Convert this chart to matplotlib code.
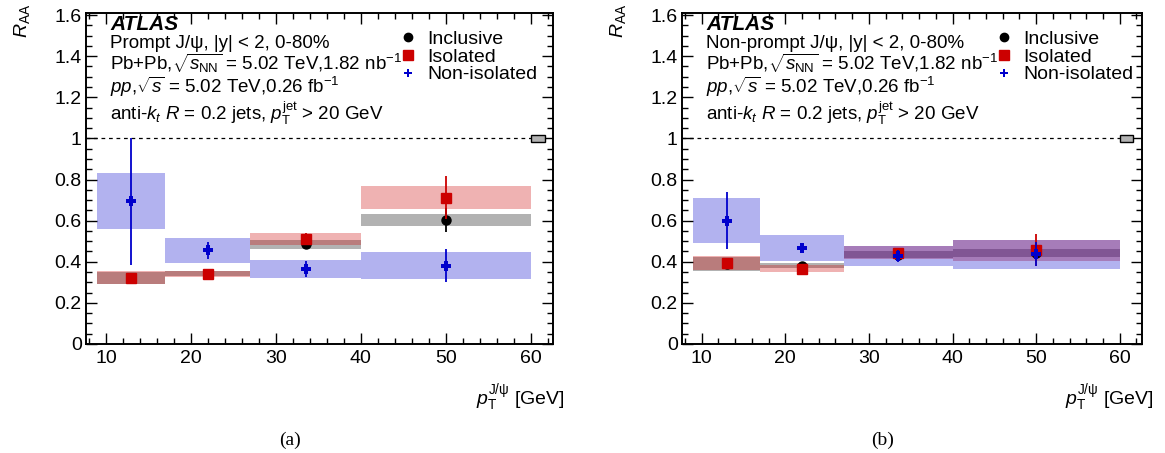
import numpy as np
import matplotlib
matplotlib.use("Agg")
import matplotlib.pyplot as plt
from matplotlib.lines import Line2D
from matplotlib.ticker import MultipleLocator

plt.rcParams['font.family'] = ['Liberation Sans', 'DejaVu Sans']
plt.rcParams['mathtext.fontset'] = 'custom'
plt.rcParams['mathtext.rm'] = 'Liberation Sans'
plt.rcParams['mathtext.it'] = 'Liberation Sans:italic'
plt.rcParams['mathtext.bf'] = 'Liberation Sans:bold'

# ---------------- data ----------------
bin_lo = [9, 17, 27, 40]
bin_hi = [17, 27, 40, 60]
x_pts = [13, 22, 33.5, 50]

# (a) prompt
a_incl = [0.322, 0.342, 0.486, 0.603]
a_incl_stat = [0.01, 0.01, 0.015, 0.06]
a_incl_sys = [0.028, 0.012, 0.022, 0.030]
a_iso = [0.323, 0.342, 0.511, 0.712]
a_iso_stat = [0.01, 0.01, 0.03, 0.105]
a_iso_sys = [0.030, 0.015, 0.030, 0.057]
a_non = [0.694, 0.455, 0.365, 0.381]
a_non_stat = [0.31, 0.04, 0.04, 0.08]
a_non_sys = [0.136, 0.060, 0.044, 0.067]

# (b) non-prompt
b_incl = [0.390, 0.381, 0.435, 0.443]
b_incl_stat = [0.01, 0.01, 0.02, 0.05]
b_incl_sys = [0.033, 0.013, 0.019, 0.019]
b_iso = [0.395, 0.366, 0.444, 0.457]
b_iso_stat = [0.01, 0.01, 0.015, 0.08]
b_iso_sys = [0.033, 0.018, 0.031, 0.051]
b_non = [0.600, 0.465, 0.429, 0.436]
b_non_stat = [0.137, 0.02, 0.03, 0.058]
b_non_sys = [0.111, 0.063, 0.050, 0.072]

global_unc = 0.017
series_labels = ["Inclusive", "Isolated", "Non-isolated"]
x_ticks = [10, 20, 30, 40, 50, 60]
y_ticks = [0, 0.2, 0.4, 0.6, 0.8, 1.0, 1.2, 1.4, 1.6]
y_ticklabels = ["0", "0.2", "0.4", "0.6", "0.8", "1", "1.2", "1.4", "1.6"]

C_BLACK = "#000000"
C_RED = "#cc0000"
C_BLUE = "#0000cc"

FS = 14

fig = plt.figure(figsize=(11.65, 4.53), dpi=100)
W, H = 1165.0, 453.0


def make_axes(left_px, width_px):
    top_px, bot_px = 13.0, 344.0
    return fig.add_axes([left_px / W, (H - bot_px) / H, width_px / W, (bot_px - top_px) / H])


def draw_panel(ax, title, incl, incl_stat, incl_sys, iso, iso_stat, iso_sys,
               non, non_stat, non_sys, caption, cap_x):
    lo = np.array(bin_lo, float)
    hi = np.array(bin_hi, float)
    xl, xh = 7.65, 62.6
    ax.set_xlim(xl, xh)
    ax.set_ylim(0, 1.61)

    # reference line at unity + global uncertainty box
    ax.hlines(1.0, xl, 60, colors='black', linestyles=(0, (3, 3)), linewidth=0.9, zorder=1)
    ax.bar([60], [2 * global_unc], bottom=[1 - global_unc], width=1.6, align='edge',
           color='#b2b2b2', edgecolor='black', linewidth=1.0, zorder=3)

    # systematic boxes
    for vals, sys, col in [(incl, incl_sys, C_BLACK), (iso, iso_sys, C_RED), (non, non_sys, C_BLUE)]:
        v = np.array(vals)
        s = np.array(sys)
        ax.bar(lo, 2 * s, bottom=v - s, width=hi - lo, align='edge',
               color=col, alpha=0.3, linewidth=0, zorder=2)

    # points with stat errors
    ax.errorbar(x_pts, incl, yerr=incl_stat, fmt='o', color=C_BLACK, ms=6.5,
                elinewidth=1.3, capsize=0, zorder=5)
    ax.errorbar(x_pts, iso, yerr=iso_stat, fmt='s', color=C_RED, ms=7.5,
                elinewidth=1.3, capsize=0, zorder=6)
    ax.errorbar(x_pts, non, yerr=non_stat, fmt='P', color=C_BLUE, ms=6.5, mew=0,
                elinewidth=1.3, capsize=0, zorder=7)

    # axes styling
    ax.xaxis.set_minor_locator(MultipleLocator(2))
    ax.set_xticks(x_ticks)
    ax.set_xticklabels([str(t) for t in x_ticks])
    ax.set_yticks(y_ticks)
    ax.set_yticklabels(y_ticklabels)
    ax.yaxis.set_minor_locator(MultipleLocator(0.05))
    ax.tick_params(which='both', direction='in', top=True, right=True, labelsize=FS)
    ax.tick_params(which='major', length=8, width=1.0)
    ax.tick_params(which='minor', length=4, width=1.0)
    ax.tick_params(axis='x', which='major', pad=4)
    ax.tick_params(axis='y', which='major', pad=3)
    for sp in ax.spines.values():
        sp.set_linewidth(1.4)

    # labels
    wpx = ax.get_position().width * W
    ax.text(-64.0 / wpx, 1.027, r'$R_{\mathrm{AA}}$', rotation=90, ha='center', va='top',
            transform=ax.transAxes, fontsize=FS)
    ax.text(1.0 + 12.0 / wpx, -0.165, r'$p_{\mathrm{T}}^{\mathrm{J/\psi}}$ [GeV]', ha='right', va='center',
            transform=ax.transAxes, fontsize=FS)

    # annotation text
    hpx = 331.0

    def ty(ypx):
        return 1.0 - (ypx - 13.0) / hpx
    x0 = 24.0 / wpx
    ax.text(x0, ty(30), 'ATLAS', fontsize=15, fontweight='bold', fontstyle='italic',
            transform=ax.transAxes, va='baseline', ha='left')
    lines = [title,
             r'Pb+Pb,$\sqrt{s_{\mathrm{NN}}}$ = 5.02 TeV,1.82 nb$^{\mathrm{-1}}$',
             r'$pp$,$\sqrt{s}$ = 5.02 TeV,0.26 fb$^{\mathrm{-1}}$',
             r'anti-$k_{t}$ $R$ = 0.2 jets, $p_{\mathrm{T}}^{\mathrm{jet}}$ > 20 GeV']
    for ln, yb in zip(lines, [48.5, 70, 93, 120]):
        ax.text(x0, ty(yb), ln, fontsize=13.5, transform=ax.transAxes, va='baseline', ha='left')

    handles = [Line2D([], [], marker='o', color=C_BLACK, ls='none', ms=6),
               Line2D([], [], marker='s', color=C_RED, ls='none', ms=7),
               Line2D([], [], marker='P', color=C_BLUE, ls='none', ms=6, mew=0)]
    ax.legend(handles, series_labels, loc='upper left',
              bbox_to_anchor=(314.0 / wpx, ty(30.5)),
              frameon=False, fontsize=FS, handlelength=0.8, handletextpad=0.6,
              labelspacing=0.0, borderpad=0, borderaxespad=0)

    fig.text(cap_x, 1.0 - 440.0 / H, caption, ha='center', va='center',
             fontsize=14, family=['Liberation Serif', 'DejaVu Serif'])


axL = make_axes(86.0, 467.0)
draw_panel(axL, 'Prompt J/ψ, |y| < 2, 0-80%', a_incl, a_incl_stat, a_incl_sys,
           a_iso, a_iso_stat, a_iso_sys, a_non, a_non_stat, a_non_sys, '(a)', 290.0 / W)
axR = make_axes(682.0, 459.5)
draw_panel(axR, 'Non-prompt J/ψ, |y| < 2, 0-80%', b_incl, b_incl_stat, b_incl_sys,
           b_iso, b_iso_stat, b_iso_sys, b_non, b_non_stat, b_non_sys, '(b)', 883.0 / W)

fig.savefig('out.png', dpi=100)
